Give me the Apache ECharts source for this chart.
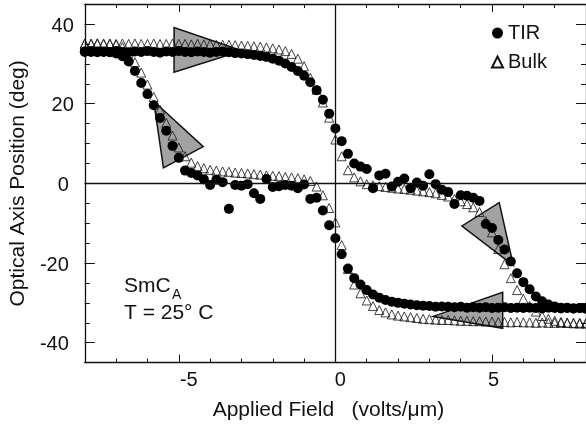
<!DOCTYPE html>
<html>
<head>
<meta charset="utf-8">
<script src="https://cdn.jsdelivr.net/npm/echarts@6/dist/echarts.min.js"></script>
<style>
  html, body { margin: 0; padding: 0; background: #fff; }
  #chart { width: 586px; height: 428px; }
</style>
</head>
<body>
<div id="chart"></div>
<script>
// applied field steps (volts/um), shared by every branch
const fieldSteps = [
  -8, -7.8, -7.6, -7.4, -7.2, -7, -6.8, -6.6, -6.4, -6.2,
  -6, -5.8, -5.6, -5.4, -5.2, -5, -4.8, -4.6, -4.4, -4.2,
  -4, -3.8, -3.6, -3.4, -3.2, -3, -2.8, -2.6, -2.4, -2.2,
  -2, -1.8, -1.6, -1.4, -1.2, -1, -0.8, -0.6, -0.4, -0.2,
  0, 0.2, 0.4, 0.6, 0.8, 1, 1.2, 1.4, 1.6, 1.8,
  2, 2.2, 2.4, 2.6, 2.8, 3, 3.2, 3.4, 3.6, 3.8,
  4, 4.2, 4.4, 4.6, 4.8, 5, 5.2, 5.4, 5.6, 5.8,
  6, 6.2, 6.4, 6.6, 6.8, 7, 7.2, 7.4, 7.6, 7.8,
  8
];

// TIR, field going up
const tirUp = [
  33.0, 33.2, 32.9, 33.1, 33.0, 33.2, 33.0, 32.9, 33.1, 33.0,
  33.2, 33.0, 32.8, 33.1, 33.0, 33.2, 33.0, 32.9, 33.1, 33.0,
  32.8, 33.0, 33.1, 32.9, 32.7, 32.6, 32.4, 32.2, 32.0, 31.7,
  31.3, 30.8, 30.1, 29.2, 28.2, 27.0, 25.4, 23.4, 21.0, 17.5,
  13.8, 10.6, 7.4, 5.0, 4.2, 3.6, -1.2, 2.0, 2.4, -0.8,
  0.4, 1.2, -1.2, 0.2, -0.6, 2.3, -0.2, -1.6, -2.2, -5.2,
  -3.0, -3.1, -3.6, -4.4, -10.2, -11.2, -14.2, -16.6, -19.6, -22.6,
  -24.8, -26.6, -28.4, -29.6, -30.4, -30.9, -31.2, -31.3, -31.4, -31.3,
  -31.4
];

// TIR, field going down
const tirDown = [
  33.1, 33.0, 33.1, 33.0, 32.9, 32.6, 31.9, 30.6, 28.2, 25.2,
  22.4, 19.6, 16.4, 13.2, 9.4, 6.4, 3.2, 2.6, 2.0, 1.0,
  -0.4, 0.9, 0.3, -6.4, -0.4, -0.6, -0.2, -2.5, -3.9, 1.1,
  -0.9, -0.7, -0.4, -0.6, -1.2, -0.3, -3.9, -3.6, -6.8, -10.5,
  -13.8, -17.8, -21.4, -23.8, -25.4, -26.8, -27.9, -28.7, -29.3, -29.7,
  -30.0, -30.2, -30.4, -30.6, -30.7, -30.8, -31.0, -30.9, -31.0, -31.1,
  -31.0, -31.2, -31.1, -31.2, -31.1, -31.3, -31.2, -31.1, -31.3, -31.2,
  -31.3, -31.2, -31.3, -31.4, -31.2, -31.3, -31.4, -31.2, -31.4, -31.3,
  -31.5
];

// Bulk, field going up
const bulkUp = [
  35.1, 35.0, 35.2, 35.0, 35.1, 35.0, 35.1, 35.0, 35.1, 35.0,
  35.0, 35.1, 35.0, 35.0, 35.1, 35.0, 35.0, 34.9, 35.0, 34.9,
  34.9, 34.8, 34.8, 34.8, 34.7, 34.6, 34.5, 34.4, 34.3, 34.1,
  33.9, 33.6, 33.2, 32.5, 31.3, 29.4, 26.5, 23.5, 20.3, 16.5,
  11.0, 6.8, 3.3, 1.5, 0.5, -0.2, -0.5, -0.7, -0.9, -1.1,
  -1.3, -1.4, -1.6, -1.8, -2.0, -2.2, -2.5, -2.9, -3.3, -3.9,
  -4.5, -5.2, -6.0, -7.2, -9.5, -12.3, -16.5, -20.3, -23.8, -26.8,
  -29.0, -30.8, -32.2, -33.3, -34.0, -34.5, -34.8, -35.0, -35.1, -35.2,
  -35.2
];

// Bulk, field going down
const bulkDown = [
  35.0, 35.1, 35.0, 35.1, 35.0, 34.8, 34.2, 32.8, 30.4, 27.8,
  24.8, 21.7, 18.5, 15.2, 12.0, 9.0, 6.8, 5.2, 4.3, 3.8,
  3.4, 3.2, 3.0, 2.9, 2.7, 2.6, 2.5, 2.3, 2.2, 2.0,
  1.9, 1.8, 1.6, 1.5, 1.3, 1.0, 0.6, -0.8, -3.0, -6.2,
  -9.8, -15.5, -21.5, -25.4, -27.6, -29.4, -30.8, -31.8, -32.4, -32.9,
  -33.2, -33.4, -33.6, -33.8, -34.0, -34.1, -34.2, -34.3, -34.3, -34.4,
  -34.5, -34.5, -34.6, -34.6, -34.7, -34.7, -34.8, -34.8, -34.9, -34.8,
  -34.9, -34.9, -35.0, -34.9, -35.0, -35.0, -35.0, -35.0, -35.1, -35.0,
  -35.1
];

const xTickLabels = [-5, 0, 5];
const yTickLabels = [-40, -20, 0, 20, 40];

// direction arrows, corners in data units (field, deg)
const arrowShapes = [
  [[-5.15, 39.1], [-5.15, 27.9], [-2.98, 33.3]],
  [[-5.80, 20.6], [-4.22, 9.2], [-5.49, 3.9]],
  [[5.23, -4.85], [4.04, -10.7], [5.68, -20.6]],
  [[5.34, -27.35], [5.34, -36.4], [3.12, -33.4]]
];

const ink = '#111';
const font = '"Liberation Sans", Arial, sans-serif';

function pairs(ys) {
  return fieldSteps.map((x, i) => [x, ys[i]]);
}

const frameLine = { show: true, onZero: false, lineStyle: { color: ink, width: 1.3 } };
const noLine = { show: false, onZero: false };
const tickStyle = { color: ink, width: 1 };

const chart = echarts.init(document.getElementById('chart'));

const option = {
  animation: false,
  backgroundColor: '#fff',
  grid: { left: 82.7, right: -1.3, top: 4.1, bottom: 65.4 },
  xAxis: [
    {
      type: 'value', position: 'bottom', min: -8, max: 8, interval: 1,
      axisLine: frameLine,
      axisTick: { inside: true, length: 4, lineStyle: tickStyle },
      axisLabel: {
        customValues: xTickLabels,
        margin: 8,
        color: ink, fontFamily: font, fontSize: 20,
        formatter: (v) => '{t' + xTickLabels.indexOf(v) + '|' + v + '}',
        rich: {
          t0: { fontFamily: font, fontSize: 20, color: ink, padding: [0, 0, 0, 20] },
          t1: { fontFamily: font, fontSize: 20, color: ink, padding: [0, 0, 0, 10] },
          t2: { fontFamily: font, fontSize: 20, color: ink, padding: [0, 0, 0, 3] }
        }
      },
      splitLine: { show: false },
      name: 'Applied Field   (volts/\u03bcm)',
      nameLocation: 'middle',
      nameGap: 37,
      nameTextStyle: { color: ink, fontFamily: font, fontSize: 21, padding: [0, 14, 0, 0] }
    },
    {
      type: 'value', position: 'bottom', min: -8, max: 8,
      axisLine: noLine,
      axisTick: { customValues: xTickLabels, inside: true, length: 8, lineStyle: tickStyle },
      axisLabel: { show: false },
      splitLine: { show: false }
    },
    {
      type: 'value', position: 'top', min: -8, max: 8, interval: 1,
      axisLine: frameLine,
      axisTick: { inside: true, length: 4, lineStyle: tickStyle },
      axisLabel: { show: false },
      splitLine: { show: false }
    },
    {
      type: 'value', position: 'top', min: -8, max: 8,
      axisLine: noLine,
      axisTick: { customValues: xTickLabels, inside: true, length: 8, lineStyle: tickStyle },
      axisLabel: { show: false },
      splitLine: { show: false }
    }
  ],
  yAxis: [
    {
      type: 'value', position: 'left', min: -45, max: 45, interval: 5,
      axisLine: frameLine,
      axisTick: { inside: true, length: 5, lineStyle: tickStyle },
      axisLabel: {
        customValues: yTickLabels,
        margin: 11,
        color: ink, fontFamily: font, fontSize: 20,
        formatter: (v) => (v > 0 ? '{p|' + v + '}' : '{n|' + v + '}'),
        rich: {
          p: { fontFamily: font, fontSize: 20, color: ink, padding: [4, 0, 0, 0] },
          n: { fontFamily: font, fontSize: 20, color: ink, padding: [4, 5, 0, 0] }
        }
      },
      splitLine: { show: false },
      name: 'Optical Axis Position (deg)',
      nameLocation: 'middle',
      nameGap: 47,
      nameRotate: 90,
      nameTextStyle: { color: ink, fontFamily: font, fontSize: 21 }
    },
    {
      type: 'value', position: 'left', min: -45, max: 45,
      axisLine: noLine,
      axisTick: { customValues: yTickLabels, inside: true, length: 10, lineStyle: tickStyle },
      axisLabel: { show: false },
      splitLine: { show: false }
    },
    {
      type: 'value', position: 'right', min: -45, max: 45, interval: 5,
      axisLine: frameLine,
      axisTick: { inside: true, length: 5, lineStyle: tickStyle },
      axisLabel: { show: false },
      splitLine: { show: false }
    },
    {
      type: 'value', position: 'right', min: -45, max: 45,
      axisLine: noLine,
      axisTick: { customValues: yTickLabels, inside: true, length: 10, lineStyle: tickStyle },
      axisLabel: { show: false },
      splitLine: { show: false }
    }
  ],
  legend: {
    data: [{ name: 'TIR', icon: 'circle' }, { name: 'Bulk', icon: 'triangle' }],
    orient: 'vertical',
    left: 491,
    top: 22,
    padding: 0,
    itemWidth: 11,
    itemHeight: 11,
    itemGap: 7,
    selectedMode: false,
    textStyle: { color: ink, fontFamily: font, fontSize: 20, lineHeight: 22 }
  },
  graphic: [
    { type: 'text', left: 124, top: 276, style: { text: 'SmC', fill: ink, font: '21px ' + font } },
    { type: 'text', left: 172, top: 288, style: { text: 'A', fill: ink, font: '14px ' + font } },
    { type: 'text', left: 124, top: 303, style: { text: 'T = 25\u00b0 C', fill: ink, font: '21px ' + font } }
  ],
  series: [
    {
      name: 'zero',
      type: 'line',
      data: [],
      z: 1,
      markLine: {
        silent: true,
        symbol: ['none', 'none'],
        label: { show: false },
        lineStyle: { color: ink, width: 1.3, type: 'solid' },
        data: [{ xAxis: 0 }, { yAxis: 0 }]
      }
    },
    {
      name: 'arrows',
      type: 'custom',
      z: 2,
      silent: true,
      data: arrowShapes.map((pts, i) => [pts[2][0], pts[2][1], i]),
      encode: { x: 0, y: 1 },
      renderItem: (params, api) => {
        const pts = arrowShapes[api.value(2)].map((p) => api.coord(p));
        return {
          type: 'polygon',
          shape: { points: pts },
          style: { fill: '#a2a2a2', stroke: ink, lineWidth: 1.5 }
        };
      }
    },
    {
      name: 'Bulk',
      type: 'scatter',
      z: 3,
      symbol: 'triangle',
      symbolSize: 9,
      itemStyle: { color: 'rgba(0,0,0,0)', borderColor: ink, borderWidth: 0.8, opacity: 1 },
      data: pairs(bulkUp).concat(pairs(bulkDown))
    },
    {
      name: 'TIR',
      type: 'scatter',
      z: 4,
      symbol: 'circle',
      symbolSize: 10,
      itemStyle: { color: '#000', opacity: 1 },
      data: pairs(tirUp).concat(pairs(tirDown))
    }
  ]
};

chart.setOption(option);
</script>
</body>
</html>
